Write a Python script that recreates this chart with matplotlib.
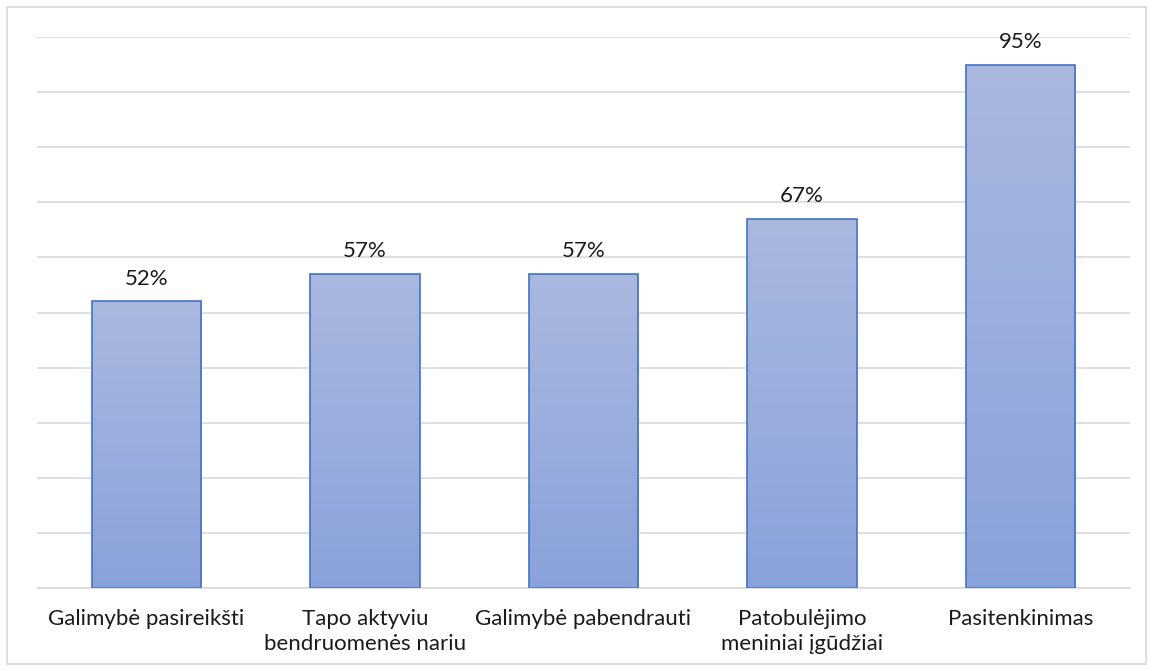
import numpy as np
import matplotlib.pyplot as plt
from matplotlib.colors import LinearSegmentedColormap
from matplotlib.patches import Rectangle

plt.rcParams['font.family'] = ['Lato', 'DejaVu Sans']
plt.rcParams['font.size'] = 16

categories = ['Galimybė pasireikšti', 'Tapo aktyviu\nbendruomenės nariu',
              'Galimybė pabendrauti', 'Patobulėjimo\nmeniniai įgūdžiai',
              'Pasitenkinimas']
values = [52, 57, 57, 67, 95]

W, H = 1153, 671
fig = plt.figure(figsize=(W / 100, H / 100), dpi=100)
ax = fig.add_axes([37 / W, (H - 588) / H, (1130 - 37) / W, (588 - 37) / H])

# outer chart frame
fig.patches.append(Rectangle((7 / W, 7 / H), (1146 - 7) / W, (664 - 7) / H,
                             transform=fig.transFigure, fill=False,
                             edgecolor='#D9D9D9', lw=1.2))

x = np.arange(len(values))
bars = ax.bar(x, values, width=0.5, color='none', edgecolor='#4472C4', lw=1.2, zorder=3)

cmap = LinearSegmentedColormap.from_list('grad', ['#8AA2DA', '#AAB8E0'])
grad = np.linspace(0, 1, 256).reshape(-1, 1)
for b in bars:
    bx, by = b.get_x(), b.get_y()
    bw, bh = b.get_width(), b.get_height()
    im = ax.imshow(grad, cmap=cmap, origin='lower', aspect='auto',
                   extent=[bx, bx + bw, by, by + bh], zorder=2)
    im.set_clip_path(b)

for xi, v in zip(x, values):
    ax.text(xi, v + 2.3, f'{v}%', ha='center', va='bottom', fontsize=16, color='#1a1a1a')

ax.set_xlim(-0.5, len(values) - 0.5)
ax.set_ylim(0, 100)
ax.set_yticks(np.arange(0, 101, 10))
ax.yaxis.grid(True, color='#D9D9D9', lw=1.2, zorder=0)
ax.set_axisbelow(True)
ax.tick_params(axis='y', left=False, labelleft=False)
ax.tick_params(axis='x', length=0, pad=15)
ax.set_xticks(x)
ax.set_xticklabels(categories, fontsize=16, color='#1a1a1a', linespacing=1.32)
for s in ['top', 'right', 'left']:
    ax.spines[s].set_visible(False)
ax.spines['bottom'].set_color('#D9D9D9')
ax.spines['bottom'].set_linewidth(1.2)

fig.savefig('out.png', dpi=100)
